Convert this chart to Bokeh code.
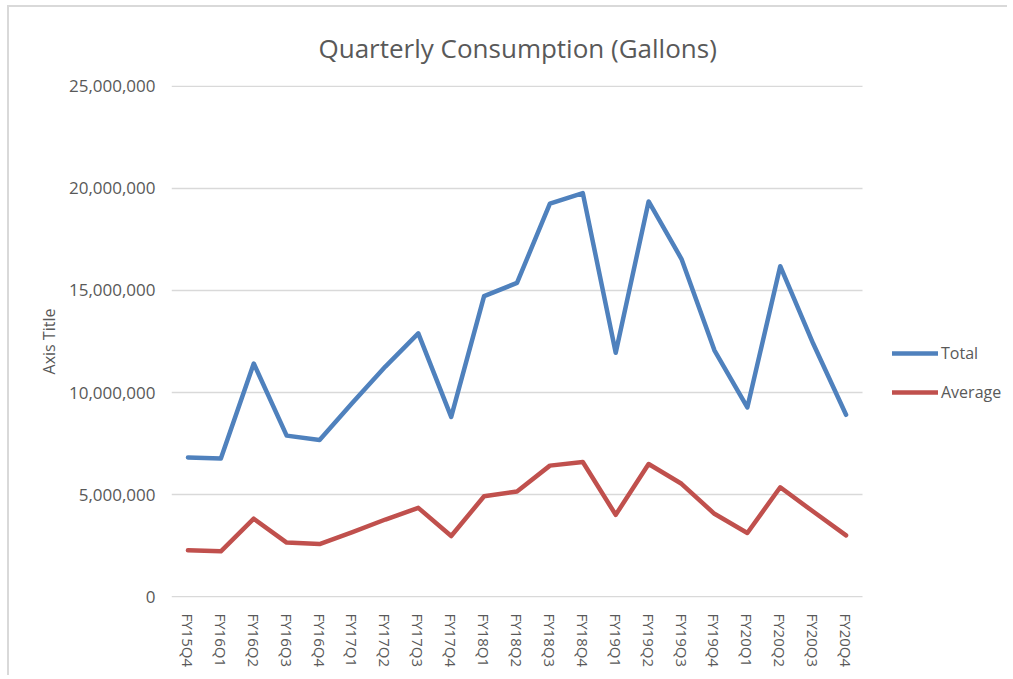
from bokeh.plotting import figure
from bokeh.models import Range1d, NumeralTickFormatter, FixedTicker, Legend, LegendItem
from bokeh.embed import file_html
from bokeh.resources import INLINE

quarters = ["FY15Q4", "FY16Q1", "FY16Q2", "FY16Q3", "FY16Q4", "FY17Q1", "FY17Q2",
            "FY17Q3", "FY17Q4", "FY18Q1", "FY18Q2", "FY18Q3", "FY18Q4", "FY19Q1",
            "FY19Q2", "FY19Q3", "FY19Q4", "FY20Q1", "FY20Q2", "FY20Q3", "FY20Q4"]
total = [6.82e6, 6.77e6, 11.42e6, 7.89e6, 7.68e6, 9.5e6, 11.27e6,
         12.9e6, 8.81e6, 14.72e6, 15.37e6, 19.25e6, 19.77e6, 11.95e6,
         19.36e6, 16.54e6, 12.07e6, 9.27e6, 16.19e6, 12.4e6, 8.91e6]
average = [2.27e6, 2.22e6, 3.82e6, 2.65e6, 2.58e6, 3.16e6, 3.78e6,
           4.35e6, 2.97e6, 4.92e6, 5.15e6, 6.42e6, 6.6e6, 4.01e6,
           6.5e6, 5.53e6, 4.06e6, 3.12e6, 5.36e6, 4.17e6, 3.0e6]
y_ticks = [0, 5e6, 10e6, 15e6, 20e6, 25e6]

FONT = "Open Sans"
TXT = "#595959"
GRID = "#d9d9d9"

n = len(quarters)
xs = [i + 0.5 for i in range(n)]

# frame extends to the right edge so the legend can sit beside the plot area
p = figure(width=1000, height=670, output_backend="svg", toolbar_location=None,
           x_range=Range1d(0, n * 838 / 691), y_range=Range1d(-40000, 25040000),
           title="Quarterly Consumption (Gallons)")
p.min_border_left = 162
p.min_border_right = 0
p.min_border_top = 78
p.min_border_bottom = 80
p.outline_line_color = None
p.styles = {"margin-top": "5px", "margin-left": "7px",
            "border-top": "2px solid #d9d9d9", "border-left": "2px solid #d9d9d9"}

p.title.align = "left"
p.title.offset = 147
p.title.vertical_align = "top"
p.title.text_line_height = 0.6
p.title.text_font = FONT
p.title.text_font_size = "26px"
p.title.text_font_style = "normal"
p.title.text_color = TXT
p.title.standoff = 36

# horizontal gridlines spanning only the category area
p.xgrid.grid_line_color = None
p.ygrid.grid_line_color = None
p.segment(x0=[0] * len(y_ticks), x1=[n] * len(y_ticks), y0=y_ticks, y1=y_ticks,
          line_color=GRID, line_width=1.5)

r1 = p.line(xs, total, line_color="#4F81BD", line_width=4.5,
            line_join="round", line_cap="round")
r2 = p.line(xs, average, line_color="#C0504D", line_width=4.5,
            line_join="round", line_cap="round")

p.yaxis.ticker = FixedTicker(ticks=y_ticks)
p.yaxis.formatter = NumeralTickFormatter(format="0,0")
p.yaxis.axis_label = "Axis Title"
p.yaxis.axis_label_text_font = FONT
p.yaxis.axis_label_text_font_style = "normal"
p.yaxis.axis_label_text_font_size = "16px"
p.yaxis.axis_label_text_color = TXT
p.yaxis.axis_label_standoff = 6
p.xaxis.ticker = FixedTicker(ticks=xs)
p.xaxis.major_label_overrides = {x: q for x, q in zip(xs, quarters)}
for ax in (p.xaxis, p.yaxis):
    ax.axis_line_color = None
    ax.major_tick_line_color = None
    ax.minor_tick_line_color = None
    ax.major_label_text_font = FONT
    ax.major_label_text_color = TXT
p.yaxis.major_label_text_font_size = "17px"
p.yaxis.major_label_standoff = 10
p.xaxis.major_label_text_font_size = "15px"
p.xaxis.major_label_orientation = "vertical"
p.xaxis.major_label_standoff = 10

legend = Legend(items=[LegendItem(label="Total", renderers=[r1]),
                       LegendItem(label="Average", renderers=[r2])],
                location=(721, 194), orientation="vertical")
legend.glyph_width = 46
legend.glyph_height = 20
legend.label_height = 20
legend.label_standoff = 3
legend.spacing = 17
legend.padding = 0
legend.margin = 0
legend.border_line_color = None
legend.background_fill_alpha = 0
legend.label_text_font = FONT
legend.label_text_font_size = "16px"
legend.label_text_color = TXT
p.add_layout(legend, "center")

open("out.html", "w").write(file_html(p, INLINE))
